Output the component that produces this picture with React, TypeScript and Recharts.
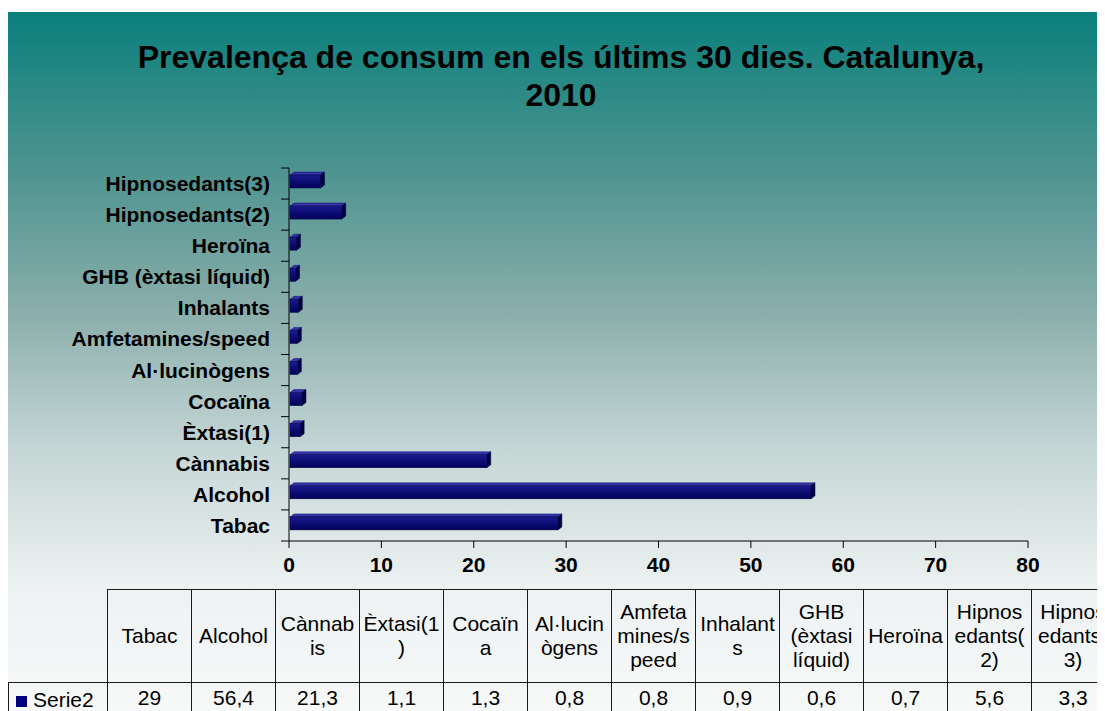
import { Bar, BarChart, XAxis, YAxis } from 'recharts'

const CATEGORIES = [
  'Tabac',
  'Alcohol',
  'Cànnabis',
  'Èxtasi(1)',
  'Cocaïna',
  'Al·lucinògens',
  'Amfetamines/speed',
  'Inhalants',
  'GHB (èxtasi líquid)',
  'Heroïna',
  'Hipnosedants(2)',
  'Hipnosedants(3)',
]
const SERIE2 = [29, 56.4, 21.3, 1.1, 1.3, 0.8, 0.8, 0.9, 0.6, 0.7, 5.6, 3.3]
const X_TICKS = [0, 10, 20, 30, 40, 50, 60, 70, 80]
const SERIES_NAME = 'Serie2'
const TITLE = ['Prevalença de consum en els últims 30 dies. Catalunya,', '2010']

const data = CATEGORIES.map((name, i) => ({ name, value: SERIE2[i] }))

const FONT = '"Liberation Sans", Arial, Helvetica, sans-serif'
const W = 1106
const H = 699
const CHART_H = 620
const MARGIN = { top: 156, right: 86, bottom: 51, left: 0 }
const Y_AXIS_W = 281
const X_AXIS_H = 40
const PLOT_H = CHART_H - MARGIN.top - MARGIN.bottom - X_AXIS_H
const BAND = PLOT_H / CATEGORIES.length
const COL_W = 84
const FIRST_COL_W = 99

const fmt = (v: number) => String(v).replace('.', ',')

function YTick(props: any) {
  const { x, y, payload } = props
  const isTop = payload.value === CATEGORIES[CATEGORIES.length - 1]
  return (
    <g>
      <text
        x={x - 19}
        y={y}
        textAnchor="end"
        dominantBaseline="central"
        fontFamily={FONT}
        fontWeight="bold"
        fontSize={21}
        fill="#000"
      >
        {payload.value}
      </text>
      <line x1={x - 8} x2={x} y1={y + BAND / 2} y2={y + BAND / 2} stroke="#000" strokeWidth={1} />
      {isTop && <line x1={x - 8} x2={x} y1={y - BAND / 2} y2={y - BAND / 2} stroke="#000" strokeWidth={1} />}
    </g>
  )
}

function XTick(props: any) {
  const { x, y, payload } = props
  return (
    <text x={x} y={y + 22} textAnchor="middle" fontFamily={FONT} fontWeight="bold" fontSize={21} fill="#000">
      {payload.value}
    </text>
  )
}

function Bar3D(props: any) {
  const { x, y, width, height } = props
  if (!width || width <= 0) return null
  const dx = 4
  const dy = 3
  const fx = x + 1
  const fy = y - 2
  const w = width
  return (
    <g>
      <defs>
        <linearGradient id="frontGrad" x1="0" y1="0" x2="0" y2="1">
          <stop offset="0%" stopColor="#1a1a8e" />
          <stop offset="100%" stopColor="#00005a" />
        </linearGradient>
      </defs>
      <polygon
        points={`${fx},${fy} ${fx + dx},${fy - dy} ${fx + w + dx},${fy - dy} ${fx + w},${fy}`}
        fill="#3434a6"
        stroke="#101070"
        strokeWidth={0.5}
      />
      <polygon
        points={`${fx + w},${fy} ${fx + w + dx},${fy - dy} ${fx + w + dx},${fy - dy + height} ${fx + w},${fy + height}`}
        fill="#000046"
        stroke="#000030"
        strokeWidth={0.5}
      />
      <rect x={fx} y={fy} width={w} height={height} fill="url(#frontGrad)" stroke="#000040" strokeWidth={0.5} />
    </g>
  )
}

const cellBorder = '1px solid #1a1a1a'

function DataTable() {
  return (
    <>
      <div style={{ position: 'absolute', left: FIRST_COL_W, top: 577, display: 'flex' }}>
        {CATEGORIES.map((c, i) => (
          <div
            key={c}
            style={{
              width: COL_W,
              height: 93,
              boxSizing: 'border-box',
              borderLeft: cellBorder,
              borderTop: cellBorder,
              borderRight: i === CATEGORIES.length - 1 ? cellBorder : undefined,
              display: 'flex',
              alignItems: 'center',
              justifyContent: 'center',
            }}
          >
            <div
              style={{
                width: 76.5,
                textAlign: 'center',
                overflowWrap: 'anywhere',
                fontSize: 21,
                lineHeight: '24px',
                color: '#000',
              }}
            >
              {c.replace('/', '/\u2060')}
            </div>
          </div>
        ))}
      </div>
      <div style={{ position: 'absolute', left: 0, top: 670, display: 'flex' }}>
        <div
          style={{
            width: FIRST_COL_W,
            height: 40,
            boxSizing: 'border-box',
            borderLeft: cellBorder,
            borderTop: cellBorder,
            position: 'relative',
            fontSize: 21,
            lineHeight: '24px',
          }}
        >
          <div style={{ position: 'absolute', left: 7, top: 13, width: 11, height: 11, background: '#000080' }} />
          <div style={{ position: 'absolute', left: 24, top: 5 }}>{SERIES_NAME}</div>
        </div>
        {SERIE2.map((v, i) => (
          <div
            key={i}
            style={{
              width: COL_W,
              height: 40,
              boxSizing: 'border-box',
              borderLeft: cellBorder,
              borderTop: cellBorder,
              borderRight: i === SERIE2.length - 1 ? cellBorder : undefined,
              textAlign: 'center',
              fontSize: 21,
              lineHeight: '24px',
              paddingTop: 3,
            }}
          >
            {fmt(v)}
          </div>
        ))}
      </div>
    </>
  )
}

export default function App() {
  return (
    <>
      <style>{'body{overflow:hidden}'}</style>
      <div
        style={{
          position: 'relative',
          width: W,
          height: H,
          marginTop: 4,
          overflow: 'hidden',
          fontFamily: FONT,
          background:
            'linear-gradient(to bottom, #0b807c 0px, #4a928e 150px, #8aaeab 300px, #c6d7d6 440px, #eef2f2 580px, #f7f9f9 699px)',
        }}
      >
        <div
          style={{
            position: 'absolute',
            top: 26,
            left: 0,
            width: W,
            textAlign: 'center',
            fontWeight: 'bold',
            fontSize: 32,
            lineHeight: '38px',
            color: '#000',
          }}
        >
          {TITLE.map((t) => (
            <div key={t}>{t}</div>
          ))}
        </div>
        <div style={{ position: 'absolute', left: 0, top: 0 }}>
          <BarChart width={W} height={CHART_H} data={data} layout="vertical" margin={MARGIN}>
            <XAxis
              type="number"
              domain={[0, 80]}
              ticks={X_TICKS}
              height={X_AXIS_H}
              axisLine={{ stroke: '#000' }}
              tickLine={{ stroke: '#000' }}
              tickSize={7}
              tick={<XTick />}
              interval={0}
            />
            <YAxis
              type="category"
              dataKey="name"
              reversed
              width={Y_AXIS_W}
              axisLine={{ stroke: '#000' }}
              tickLine={false}
              tickSize={0}
              tickMargin={0}
              tick={<YTick />}
              interval={0}
            />
            <Bar dataKey="value" barSize={13} shape={<Bar3D />} isAnimationActive={false} />
          </BarChart>
        </div>
        <DataTable />
      </div>
    </>
  )
}
